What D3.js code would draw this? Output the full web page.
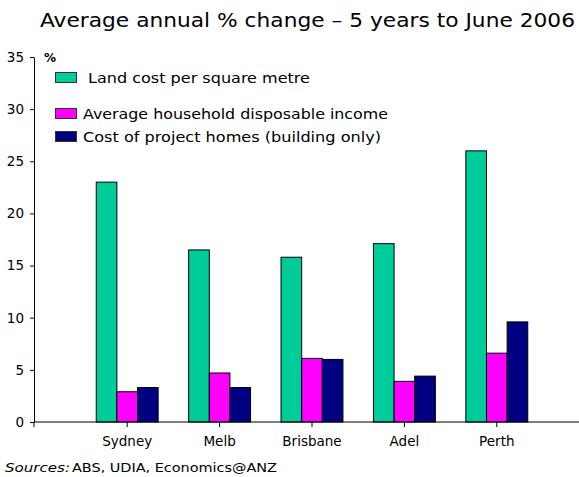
<!DOCTYPE html>
<html><head><meta charset="utf-8">
<script src="https://cdn.jsdelivr.net/npm/d3@7"></script>
<style>body{margin:0;background:#fff}svg{display:block}text{font-family:"DejaVu Sans",Verdana,sans-serif}</style>
</head><body>
<svg id="c" width="579" height="477"></svg>
<script>
const categories = ["Sydney","Melb","Brisbane","Adel","Perth"];
const seriesNames = ["Land cost per square metre","Average household disposable income","Cost of project homes (building only)"];
const landCost = [23.0,16.5,15.8,17.1,26.0];
const income = [2.9,4.7,6.1,3.9,6.6];
const buildCost = [3.3,3.3,6.0,4.4,9.6];
const colors = ["#00CC99","#FF00FF","#000080"];
const yTicks = [0,5,10,15,20,25,30,35];

const series = [landCost, income, buildCost];
const svg = d3.select("#c");
const y = d3.scaleLinear().domain([0,35]).range([422,57]);
const x = d3.scaleBand().domain(categories).range([81,543]).paddingInner(0.33).paddingOuter(0.165);
const xs = d3.scaleBand().domain([0,1,2]).range([0,x.bandwidth()]);

svg.append("text").attr("x",40).attr("y",27).attr("font-size",19).attr("textLength",535).attr("lengthAdjust","spacingAndGlyphs").text("Average annual % change \u2013 5 years to June 2006");

const ya = svg.append("g").attr("transform","translate(34,0)").call(d3.axisLeft(y).tickValues(yTicks).tickSize(4).tickSizeOuter(0));
ya.select(".domain").attr("stroke","#000");
ya.selectAll("text").attr("font-size",13.5).attr("font-family","DejaVu Sans, Verdana, sans-serif").attr("fill","#000").attr("x",-10);

svg.append("text").attr("x",44).attr("y",62).attr("font-size",12).attr("font-weight","bold").text("%");

const g = svg.append("g");
categories.forEach((c,i)=>{
  series.forEach((s,j)=>{
    g.append("rect").attr("x",x(c)+xs(j)).attr("y",y(s[i])).attr("width",xs.bandwidth()).attr("height",y(0)-y(s[i]))
     .attr("fill",colors[j]).attr("stroke","#000").attr("stroke-width",1);
  });
});

const xa = svg.append("g").attr("transform","translate(0,422)").call(d3.axisBottom(x).tickSize(5).tickSizeOuter(0));
xa.select(".domain").remove();
xa.selectAll("text").attr("font-size",13.5).attr("font-family","DejaVu Sans, Verdana, sans-serif").attr("fill","#000").attr("dy","1.2em");
svg.append("line").attr("x1",34).attr("x2",579).attr("y1",422).attr("y2",422).attr("stroke","#000");
svg.append("line").attr("x1",34).attr("x2",34).attr("y1",422).attr("y2",427).attr("stroke","#000");

const legY = [72,108,131];
const legTX = [88,83,83];
const legTW = [222,305,298];
seriesNames.forEach((n,j)=>{
  svg.append("rect").attr("x",55.5).attr("y",legY[j]+0.5).attr("width",21).attr("height",10).attr("fill",colors[j]).attr("stroke","#333");
  svg.append("text").attr("x",legTX[j]).attr("y",legY[j]+10.5).attr("font-size",14.5).attr("textLength",legTW[j]).attr("lengthAdjust","spacingAndGlyphs").text(n);
});

svg.append("text").attr("x",5).attr("y",472).attr("font-size",13).attr("font-style","italic").attr("textLength",65).attr("lengthAdjust","spacingAndGlyphs").text("Sources:");
svg.append("text").attr("x",72).attr("y",472).attr("font-size",13).attr("textLength",205).attr("lengthAdjust","spacingAndGlyphs").text("ABS, UDIA, Economics@ANZ");
</script>
</body></html>
